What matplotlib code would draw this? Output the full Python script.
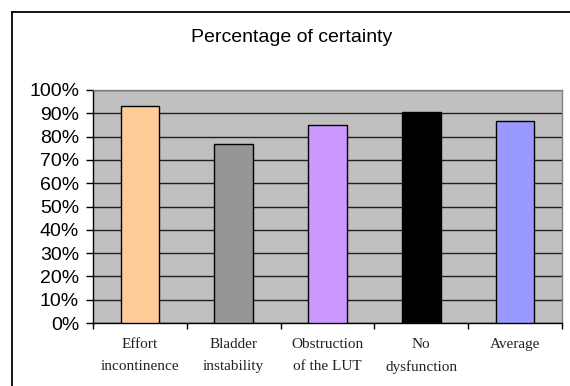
import matplotlib
matplotlib.use("Agg")
import matplotlib.pyplot as plt
from matplotlib.lines import Line2D
from matplotlib.ticker import MultipleLocator, FuncFormatter

categories = ["Effort\nincontinence", "Bladder\ninstability", "Obstruction\nof the LUT", "No\ndysfunction", "Average"]
values = [93, 77, 85, 90.7, 86.7]
colors = ["#FFCC99", "#969696", "#CC99FF", "#000000", "#9999FF"]
title = "Percentage of certainty"

fig = plt.figure(figsize=(5.70, 3.86), dpi=100)
ax = fig.add_axes([93/570, 63/386, (562-93)/570, (323-90)/386])
ax.set_facecolor("#C0C0C0")

x = list(range(len(categories)))
ax.bar(x, values, width=0.41, color=colors, edgecolor="black", linewidth=1.0, zorder=3)

ax.set_xlim(-0.5, len(categories) - 0.5)
ax.set_ylim(0, 100)
ax.yaxis.set_major_locator(MultipleLocator(10))
ax.yaxis.set_major_formatter(FuncFormatter(lambda v, p: f"{int(round(v))}%"))
ax.grid(axis="y", color="#202020", linewidth=1.0, zorder=1)
ax.set_axisbelow(True)

ax.set_xticks(x)
ax.set_xticklabels(categories, family="Liberation Serif", fontsize=11, linespacing=1.85, color="#222222")
ax.tick_params(axis="x", length=0, pad=11)
ax.set_xticks([i + 0.5 for i in range(-1, len(categories))], minor=True)
ax.tick_params(axis="x", which="minor", length=4, width=1, color="black")
ax.tick_params(axis="y", length=5, width=1, color="black", labelsize=14, pad=5)
for lab in ax.get_yticklabels():
    lab.set_family("Liberation Sans")

for side in ["top", "right"]:
    ax.spines[side].set_color("#808080")
    ax.spines[side].set_linewidth(1.0)
for side in ["left", "bottom"]:
    ax.spines[side].set_color("black")
    ax.spines[side].set_linewidth(1.0)

fig.text(292/570, 1 - 38/386, title, ha="center", va="center", family="Liberation Sans", fontsize=14)

# outer chart frame (top and left edges visible)
fig.add_artist(Line2D([12/570, 1.0], [1 - 12/386, 1 - 12/386], transform=fig.transFigure, color="black", linewidth=1.3))
fig.add_artist(Line2D([12/570, 12/570], [0.0, 1 - 12/386], transform=fig.transFigure, color="black", linewidth=1.3))

fig.savefig("out.png", dpi=100)
